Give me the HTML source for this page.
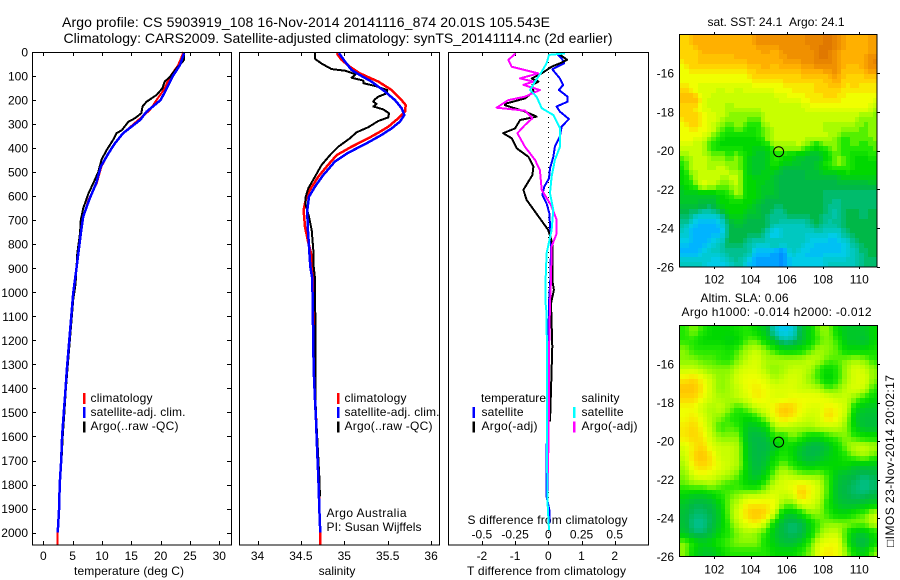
<!DOCTYPE html>
<html lang="en">
<head>
<meta charset="utf-8">
<title>Argo profile</title>
<style>
html,body{margin:0;padding:0;background:#fff;width:900px;height:580px;overflow:hidden}
svg{display:block}
text{font-family:"Liberation Sans",sans-serif;font-size:12px;fill:#000}
.t14{font-size:14px}
.m{text-anchor:middle}
.e{text-anchor:end}
</style>
</head>
<body>
<svg id="chart" width="900" height="580" viewBox="0 0 900 580" xmlns="http://www.w3.org/2000/svg">
  <rect x="0" y="0" width="900" height="580" fill="#fff"/>
  <text class="t14" x="62" y="27" textLength="488">Argo profile: CS 5903919_108 16-Nov-2014 20141116_874 20.01S 105.543E</text>
  <text class="t14" x="63.5" y="43" textLength="549">Climatology: CARS2009. Satellite-adjusted climatology: synTS_20141114.nc (2d earlier)</text>

  <g id="ticks"></g>

  <text class="m" x="129" y="575" textLength="110">temperature (deg C)</text>
  <text class="m" x="337" y="575">salinity</text>
  <text x="467" y="575" textLength="159">T difference from climatology</text>
  <text x="467.5" y="524" textLength="160">S difference from climatology</text>

  <g>
    <rect x="83" y="393" width="2.5" height="11" fill="#f00"/>
    <rect x="83" y="407" width="2.5" height="11" fill="#00f"/>
    <rect x="83" y="421.5" width="2.5" height="11" fill="#000"/>
    <text x="90.5" y="402" textLength="62">climatology</text>
    <text x="90.5" y="416" textLength="95">satellite-adj. clim.</text>
    <text x="90.5" y="430" textLength="88">Argo(..raw -QC)</text>
  </g>
  <g>
    <rect x="337" y="393" width="2.5" height="11" fill="#f00"/>
    <rect x="337" y="407" width="2.5" height="11" fill="#00f"/>
    <rect x="337" y="421.5" width="2.5" height="11" fill="#000"/>
    <text x="344.5" y="402" textLength="62">climatology</text>
    <text x="344.5" y="416" textLength="95">satellite-adj. clim.</text>
    <text x="344.5" y="430" textLength="88">Argo(..raw -QC)</text>
    <text x="326.5" y="517" textLength="80">Argo Australia</text>
    <text x="326.5" y="531" textLength="95">PI: Susan Wijffels</text>
  </g>
  <g>
    <text x="481" y="402" textLength="65">temperature</text>
    <text x="581.5" y="402" textLength="38">salinity</text>
    <rect x="472.5" y="407" width="2.5" height="11" fill="#00f"/>
    <rect x="472.5" y="421.5" width="2.5" height="11" fill="#000"/>
    <rect x="573" y="407" width="2.5" height="11" fill="#0ff"/>
    <rect x="573" y="421.5" width="2.5" height="11" fill="#f0f"/>
    <text x="481.5" y="416" textLength="42">satellite</text>
    <text x="481.5" y="430" textLength="56">Argo(-adj)</text>
    <text x="581.5" y="416" textLength="42">satellite</text>
    <text x="581.5" y="430" textLength="56">Argo(-adj)</text>
  </g>

  <line x1="548.5" y1="52" x2="548.5" y2="545" stroke="#000" stroke-width="1" stroke-dasharray="1 4"/>

  <g id="series"></g>

  <rect x="32.5" y="52.5" width="199" height="492.5" fill="none" stroke="#000" stroke-width="1" shape-rendering="crispEdges"/>
  <rect x="239.5" y="52.5" width="200" height="492.5" fill="none" stroke="#000" stroke-width="1" shape-rendering="crispEdges"/>
  <rect x="448.5" y="52.5" width="200" height="492.5" fill="none" stroke="#000" stroke-width="1" shape-rendering="crispEdges"/>

  <text x="707.5" y="26" textLength="137">sat. SST: 24.1&#160;&#160;Argo: 24.1</text>
  <text x="700.5" y="302" textLength="88">Altim. SLA: 0.06</text>
  <text x="681.5" y="316" textLength="190">Argo h1000: -0.014 h2000: -0.012</text>
  <g id="sstMap"></g>
  <g id="slaMap"></g>
  <rect x="679.5" y="34.5" width="197.5" height="232.5" fill="none" stroke="#000" stroke-width="1" shape-rendering="crispEdges"/>
  <rect x="679.5" y="325.5" width="198" height="231" fill="none" stroke="#000" stroke-width="1" shape-rendering="crispEdges"/>
  <text transform="translate(894 547) rotate(-90)" textLength="172">&#9633;IMOS 23-Nov-2014 20:02:17</text>
</svg>

<script>
// ---- profile axes labels
const depthTicks = [0,100,200,300,400,500,600,700,800,900,1000,1100,1200,1300,1400,1500,1600,1700,1800,1900,2000];
const tempTicks = [0,5,10,15,20,25,30];
const salTicks = [34,34.5,35,35.5,36];
const tDiffTicks = [-2,-1,0,1,2];
const sDiffTicks = [-0.5,-0.25,0,0.25,0.5];
const lonTicks = [102,104,106,108,110];
const latTicks = [-16,-18,-20,-22,-24,-26];
const argoPosition = [105.55,-20.05];

// ---- temperature panel (deg C)
const tempClimDepth = [0,54,103,158,200,241,283,338,380,422,477,547,616,685,755,893,1004,1323,1400,1500,1600,1700,1800,1900,2000,2052];
const tempClim = [23.9,23,21.6,20.5,19.3,18.2,16.2,13.6,12.2,11.1,9.9,9.1,7.7,6.8,6.4,5.7,5.1,4.0,3.8,3.5,3.2,3.05,2.8,2.7,2.45,2.45];
const tempSatDepth = [5,54,103,158,200,220,248,283,338,380,422,477,547,616,685,755,893,1004,1323,1400,1500,1600,1700,1800,1900,2000];
const tempSat = [24,23.3,22,20.9,20,19,17.6,16.5,13.6,12.2,11.1,9.8,9,7.8,6.8,6.4,5.7,5.1,4.0,3.8,3.5,3.2,3.05,2.8,2.7,2.45];
const tempArgoDepth = [5,33,68,103,123,151,179,207,227,255,276,290,325,338,366,408,449,498,547,588,651,699,755,838,963,1032,1323,1400,1500,1600,1700,1800,1900];
const tempArgo = [24,24,22.7,21.6,20.7,20.3,19.3,17.6,16.9,16.7,15.6,14.5,13.4,12.5,11.9,10.8,9.9,9.4,8.5,7.7,6.8,6.4,6.25,5.8,5.5,5.1,4.1,3.85,3.6,3.3,3.1,2.75,2.75];

// ---- salinity panel
const salClimDepth = [5,33,61,89,123,158,200,221,248,276,311,336,359,394,429,477,519,574,616,657,727,782,838,879,942,1323,1448,1531,1642,1767,1933,2000,2052];
const salClim = [34.912,34.969,35.065,35.18,35.392,35.545,35.66,35.707,35.70,35.622,35.507,35.392,35.276,35.084,34.912,34.796,34.70,34.604,34.555,34.531,34.547,34.578,34.616,34.631,34.643,34.655,34.665,34.675,34.687,34.702,34.716,34.724,34.724];
const salSatDepth = [5,40,75,96,123,165,200,234,262,290,318,345,380,419,456,512,560,602,657,727,810,893,942,1323,1448,1531,1642,1767,1933,1999];
const salSat = [34.939,35.008,35.084,35.18,35.315,35.469,35.584,35.66,35.691,35.641,35.545,35.43,35.257,35.046,34.892,34.758,34.662,34.593,34.574,34.578,34.593,34.608,34.631,34.647,34.662,34.674,34.685,34.70,34.716,34.724];
const salArgoDepth = [5,30,50,71,78,93,107,119,130,141,158,172,186,197,207,216,227,239,255,272,287,313,334,359,394,429,470,519,567,602,637,685,741,824,879,942,1323,1448,1531,1642,1767,1850];
const salArgo = [34.66,34.666,34.747,34.854,35.008,35.131,35.084,35.219,35.219,35.353,35.495,35.488,35.392,35.353,35.334,35.372,35.334,35.449,35.515,35.507,35.392,35.276,35.142,35.065,34.931,34.835,34.739,34.662,34.585,34.555,34.555,34.593,34.624,34.643,34.643,34.662,34.67,34.668,34.677,34.693,34.712,34.72];

// ---- difference panel: temperature differences (deg C)
const diffTSatDepth = [6,26,47,72,110,137,158,186,207,227,248,279,311,352,394,436,484,526,560,595,630,671,741,810,949,1046,1226,1538,1656,1850,1905,1960];
const diffTSat = [0.25,0.40,0.48,0.12,0.35,0.45,0.32,0.58,0.58,0.25,0.35,0.62,0.40,0.35,0.20,0.15,0.05,0.02,-0.12,-0.18,-0.05,0.03,0.06,0.08,0.06,0.02,0,-0.03,-0.05,-0.05,0.03,0.03];
const diffTArgoDepth = [6,33,47,61,89,110,123,137,165,193,214,221,248,269,283,318,338,359,401,436,477,512,574,616,664,741,796,949,990,1046,1226,1406,1538];
const diffTArgo = [0.30,0.57,0.35,0.10,-0.20,-0.50,-0.30,-0.48,-0.45,-0.70,-1.26,-1.31,-0.70,-0.35,-0.85,-1.0,-1.36,-1.10,-0.95,-0.60,-0.45,-0.48,-0.75,-0.65,-0.40,0,0.12,0.12,0.17,0.08,0.12,0.08,0.05];
// ---- difference panel: salinity differences
const diffSArgoDepth = [6,33,61,89,110,123,137,158,186,200,232,244,276,304,338,394,449,491,574,637,699,755,810,949,1046,1254,1462,1656,1878];
const diffSArgo = [-0.246,-0.301,-0.276,-0.075,-0.213,-0.113,-0.188,-0.063,-0.176,-0.301,-0.389,-0.176,-0.12,-0.176,-0.233,-0.176,-0.10,-0.063,-0.05,0.02,0.063,0.063,0.025,0.02,0.013,0.005,0.005,0,-0.005];
const diffSSatDepth = [6,12,47,82,123,158,186,234,262,318,394,449,519,588,657,741,838,949,1046,1087,1323,1656,1878,1989];
const diffSSat = [0.126,0.005,-0.013,-0.05,-0.10,-0.138,-0.088,-0.05,0.038,0.088,0.088,0.05,0.025,0.013,0.038,0.025,-0.013,-0.02,-0.02,-0.013,-0.01,-0.01,-0.005,0.005];

// ---- heatmap colour-index values, north to south, west to east
const sstLevels = [
[3,2,2,2,2,2,2,2,1,1,1,1,1,1,0.5,0.5,0,0.5,2,2,2,1.5],
[3,3,2,2,2,2,2,2,2,1.5,2,1,1,1,1,0,0,1,2,2,2,1.5],
[3,3,2.5,2.5,2.5,2.5,2,2,2,2,2,1.5,1,1,1,0,0,1,2,2,2,0.5],
[4,3,3,3,3,3,3,3,2.5,2,2.5,2,2,2,1.5,1.5,1,1,2.5,2.5,2,1],
[4,4,4,4,4,4,4,4,3,3,3,3,3,3,3,3,2.5,1.5,3,3,3,3],
[3,4,5,4.5,5,4.5,5,4.5,4.5,4,4,4,3.5,3.5,3.5,3,3,2.5,3.5,3,3.5,3.5],
[2,2,4,5,5,5,5,5,5,5,5,4.5,4,4,3.5,3.5,3,3.5,4,4,4,4],
[3,3,4.5,5,5,5.5,5,5,5,5,5,5,5,5,4.5,4,4,4,4,4,4,5],
[3,3,3.5,4.5,5,6,6,6,6.5,5,5,5,5,5,5,5,5,5,5,5,6,6],
[4,3,4,4.5,6,7,6,7,7.5,6,5,5,5,5,5,5,5.5,5.5,5.5,6,6.5,6],
[4,4,4,6,7,8,8,8,7.5,6,5,5,5,5,5,5,5,6,7,6.5,6.5,6],
[4.5,5,5,7,8,8,8,8,8.5,8,6,5.5,5.5,5,7,7.5,6,6,7,6.5,7,6.5],
[6,5,5,6,6,7,6,8,9,9,7,7.5,8,9,9.5,9.5,8,6,7,8,8,7],
[7,5,5,5.5,5,6,6,8,9,9,7,9,9,9.5,9.5,9,7,6,6.5,8,8,8],
[8,5.5,5,5,5,5,5,8,9,8,9,10,10,10,9.5,9.5,9,9,8,8,8,8],
[8,7,4.5,5,6,6,5,8,8,9,9,10,10,10,10,10,10,10,10,10,10,9.5],
[9,9,9,9,8,7,5.5,8,8,9,9,10,10,10,10,10,10.5,10.5,10.5,10.5,10.5,10.5],
[9,9,9.5,10,8,8,8,8,9,10,10,10,10,10,10,10,10.5,11,10.5,10.5,10.5,10.5],
[10,11,12,12,11,8,8,9,9,10,11,11,10,10,10,10,11,11.5,10,10,10.5,10],
[11,13,14,14,13,10,9,10,10,10,11,12,12,12,11,10,11.5,11,10,10,10,10],
[12,14,14,14,14,10,10,10,10,11,14,12,12,12,12.5,12,12.5,12.5,11,10,10,10],
[13,14,14,13,12,10,10,11,12,12,11,12,12,12,13,13.5,13.5,13.5,12.5,11,10,10],
[14,14,13,12,12,11,11,11,14,14,14.5,15.5,12,13,13.5,13.5,13.5,13.5,13,12,10.5,10],
[12,12,12,13,13,12,11,13,14.5,14.5,14.5,15,13,13,13,13,12,12,12,12,10.5,10.5]
];
const slaLevels = [
[7,6,7,8,8,8,7.5,7,8,9,12,13.5,12.5,9.5,8,6,6,8,9,9,9,8],
[7,7,8,8,8,8.5,8,6.5,6.5,8,9.5,11.5,11,9.5,8,6.5,6,7,9,9,9.5,8],
[6,7,7,7,7,7.5,6.5,5.5,5,6,7,8,8,7.5,6.5,5.5,6,6.5,8,8,8,7.5],
[6,6,6.5,6.5,7,7,6,5,4.5,5.5,5.5,5.5,5.5,5.5,5,5.5,6.5,6.5,6,5.5,6,7],
[5,5,5.5,6,6,6,5,4.5,4.5,5.5,6,5.5,5,5,5.5,7,8,7,5.5,4.5,5,6],
[3.5,3,4,5,6,5.5,4.5,4,4,4.5,5.5,5,4.5,5,6,7,8.5,7,5.5,4.5,4.5,6],
[2.5,2.5,3.5,5,6,5.5,5,4,3.5,4,4.5,4.5,4.5,5,5,5.5,6.5,6,5,4.5,5,7],
[3,3,4,5,5.5,5.5,5,4.5,3.5,4,4.5,4.5,4,4,4,4,4.5,5,5,6,7,8],
[4,4,5,5.5,5,6,7,6,5,4.5,3.5,2.5,3,4,4.5,4.5,3.5,4,5,8,9,9],
[4,3.5,4.5,5.5,6,7,7.5,8,7,5.5,4,3,3.5,4.5,5,4.5,3,4,5.5,9,9.5,9.5],
[3.5,3,4,5.5,7,6.5,7,9,9,8,5.5,5,5.5,5.5,5.5,5,5,5,6,8.5,9.5,9.5],
[3.5,3,3.5,5,6,6,6,9.5,10,9.5,7,7.5,6,7,8,8,7,6.5,6,7,7.5,7.5],
[4.5,3.5,3,4.5,5,5,5.5,9,10,10,9,7.5,8,9,10,10,9,7.5,6,5,5,5.5],
[5,3,2.5,3.5,5,5,5.5,9,10,9.5,8,7,8,9.5,10,9.5,8.5,8,7,6,5.5,6.5],
[5.5,3.5,3,3.5,4.5,5,5.5,8.5,10,9,7,6,7,8,8.5,8,8,8,8,9,9,9],
[6,4.5,4,4.5,5,5.5,6.5,8.5,9.5,8,6,5,5.5,6,6,6,7,9,9.5,10,10.5,10],
[6.5,6,6,5.5,6.5,7,7,8,8,6.5,5,4.5,4,3.5,4,5,7,9.5,10,10.5,11,10.5],
[8,8.5,8.5,8,7,6.5,6,5.5,5.5,5,4.5,5,4.5,2.5,4,5,7,9.5,10,10.5,10.5,10],
[9,10,10,9.5,8,6,5,3.5,3.5,3.5,4,6,6,4.5,4.5,5.5,7.5,9,9.5,9.5,9,8.5],
[9.5,10.5,10.5,10,8.5,6,4.5,3,2.5,3,5,8.5,9,7.5,6,6,7,8,8,7,6.5,5],
[9.5,11,11,10,8.5,6.5,5,4,3.5,5,8,10,10.5,10,8,6.5,6,6,6,6,6,5],
[9,10.5,10.5,9.5,8,7,6,5.5,6,7,9,10,10.5,10,8,6,5,5,7,9,9,7.5],
[6,7.5,8.5,8,7,6.5,6,6,6,7.5,8.5,9.5,9.5,8.5,6.5,4.5,4,4,7,9.5,10,8],
[6,8,9,9,8,7,7,7,7,7,8,8,8,7,6,4,3.5,4,6,8,8.5,6]
];

// ---- axis functions
const yDepth = d => 52 + 0.2403 * d;
const xTemp = t => 43.3 + 5.867 * t;
const xSal = s => 344.3 + 86.8 * (s - 35);
const xTDiff = t => 548.3 + 33.2 * t;
const xSDiff = s => 548.3 + 132.8 * s;
const xLon = (lon) => 714.3 + 18.12 * (lon - 102);
const ySst = (lat) => 34.5 + 19.37 * (-14 - lat);
const ySla = (lat) => 325.7 + 19.25 * (-14 - lat);

const NS = 'http://www.w3.org/2000/svg';
const seriesG = document.getElementById('series');
const ticksG = document.getElementById('ticks');

function svgEl(tag, parent) {
  const el = document.createElementNS(NS, tag);
  parent.appendChild(el);
  return el;
}
function profile(depths, values, xFn, color, width) {
  const el = svgEl('polyline', seriesG);
  el.setAttribute('points', depths.map((d, i) => xFn(values[i]).toFixed(1) + ',' + yDepth(d).toFixed(1)).join(' '));
  el.setAttribute('fill', 'none');
  el.setAttribute('stroke', color);
  el.setAttribute('stroke-width', width);
  el.setAttribute('stroke-linejoin', 'round');
  el.setAttribute('shape-rendering', 'crispEdges');
  return el;
}
function tick(x1, y1, x2, y2) {
  const el = svgEl('line', ticksG);
  el.setAttribute('x1', x1);
  el.setAttribute('y1', y1);
  el.setAttribute('x2', x2);
  el.setAttribute('y2', y2);
  el.setAttribute('stroke', '#000');
  el.setAttribute('stroke-width', 1);
  el.setAttribute('shape-rendering', 'crispEdges');
  
  
}
function label(x, y, str, cls) {
  const el = svgEl('text', ticksG);
  el.setAttribute('x', x);
  el.setAttribute('y', y);
  el.setAttribute('class', cls);
  el.textContent = str;
  
  
}

// ---- ticks and tick labels
depthTicks.forEach(d => {
  const y = Math.round(yDepth(d)) + 0.5;
  if (d > 0) tick(32, y, 36, y);
  if (d > 0) tick(227, y, 231, y);
  label(28, yDepth(d) + 4.5, String(d), 'e');
});
tempTicks.forEach(t => {
  const x = Math.round(xTemp(t)) + 0.5;
  tick(x, 52, x, 56);
  tick(x, 541, x, 545);
  label(xTemp(t), 560, String(t), 'm');
});
salTicks.forEach(s => {
  const x = Math.round(xSal(s)) + 0.5;
  tick(x, 52, x, 56);
  tick(x, 541, x, 545);
  label(xSal(s), 560, String(s), 'm');
});
tDiffTicks.forEach(t => {
  const x = Math.round(xTDiff(t)) + 0.5;
  tick(x, 52, x, 56);
  tick(x, 541, x, 545);
  label(xTDiff(t), 560, String(t), 'm');
});
sDiffTicks.forEach(s => {
  label(xSDiff(s), 538.5, String(s), 'm');
});
lonTicks.forEach(lon => {
  const x = Math.round(xLon(lon)) + 0.5;
  tick(x, 32, x, 34);
  tick(x, 267, x, 269);
  label(xLon(lon), 283.5, String(lon), 'm');
  tick(x, 323, x, 325);
  tick(x, 557, x, 559);
  label(xLon(lon), 573.5, String(lon), 'm');
});
latTicks.forEach(lat => {
  const y1 = Math.round(ySst(lat)) + 0.5;
  tick(877, y1, 880, y1);
  label(674, ySst(lat) + 4.5, String(lat), 'e');
  const y2 = Math.round(ySla(lat)) + 0.5;
  tick(877, y2, 880, y2);
  label(674, ySla(lat) + 4.5, String(lat), 'e');
});

// ---- series, drawn back to front
let el;
el = profile(tempClimDepth, tempClim, xTemp, '#f00', 2);


el = profile(tempArgoDepth, tempArgo, xTemp, '#000', 2);


el = profile(tempSatDepth, tempSat, xTemp, '#00f', 2.5);



el = profile(salClimDepth, salClim, xSal, '#f00', 2.5);


el = profile(salArgoDepth, salArgo, xSal, '#000', 2);


el = profile(salSatDepth, salSat, xSal, '#00f', 2.5);



el = profile(diffTSatDepth, diffTSat, xTDiff, '#00f', 2);


el = profile(diffTArgoDepth, diffTArgo, xTDiff, '#000', 2);


el = profile(diffSArgoDepth, diffSArgo, xSDiff, '#f0f', 2);


el = profile(diffSSatDepth, diffSSat, xSDiff, '#0ff', 2);



// ---- heatmaps
const paletteStops = ['#e07800','#f09000','#ffb000','#ffd400','#f0ff00','#c8ff00','#88f800','#20e800','#00d800','#00c828','#00b848','#00c090','#00c8c0','#00cce8','#00b4ff','#0090ff','#0050f0'];
function hexRgb(h) {
  return [parseInt(h.slice(1,3),16), parseInt(h.slice(3,5),16), parseInt(h.slice(5,7),16)];
}
function colorFor(v) {
  const c = Math.max(0, Math.min(paletteStops.length - 1.001, v));
  const i = Math.floor(c), f = c - i;
  const a = hexRgb(paletteStops[i]), b = hexRgb(paletteStops[i + 1]);
  return 'rgb(' + a.map((n, k) => Math.round(n + (b[k] - n) * f)).join(',') + ')';
}
function sample(grid, r, c) {
  const rows = grid.length, cols = grid[0].length;
  const rr = Math.max(0, Math.min(rows - 1, r)), cc = Math.max(0, Math.min(cols - 1, c));
  const r0 = Math.floor(rr), c0 = Math.floor(cc);
  const r1 = Math.min(rows - 1, r0 + 1), c1 = Math.min(cols - 1, c0 + 1);
  const fr = rr - r0, fc = cc - c0;
  return (grid[r0][c0] * (1 - fc) + grid[r0][c1] * fc) * (1 - fr) + (grid[r1][c0] * (1 - fc) + grid[r1][c1] * fc) * fr;
}
function heatmap(parent, grid, left, top, width, height, step) {
  const rows = grid.length * 2, cols = grid[0].length * 2;
  const w = width / cols, h = height / rows;
  for (let r = 0; r < rows; r++) {
    for (let c = 0; c < cols; c++) {
      let v = sample(grid, (r + 0.5) / 2 - 0.5, (c + 0.5) / 2 - 0.5);
      if (step) v = Math.round(v / step) * step;
      const cell = svgEl('rect', parent);
      const x0 = Math.round(left + c * w), x1 = Math.round(left + (c + 1) * w);
      const y0 = Math.round(top + r * h), y1 = Math.round(top + (r + 1) * h);
      cell.setAttribute('x', x0);
      cell.setAttribute('y', y0);
      cell.setAttribute('width', x1 - x0);
      cell.setAttribute('height', y1 - y0);
      cell.setAttribute('fill', colorFor(v));
      cell.setAttribute('shape-rendering', 'crispEdges');
      
      
    }
  }
}
const sstG = document.getElementById('sstMap');
const slaG = document.getElementById('slaMap');
heatmap(sstG, sstLevels, 680, 35, 197, 232, 0.5);
heatmap(slaG, slaLevels, 680, 326, 198, 231, 0);

el = svgEl('circle', sstG);
el.setAttribute('cx', xLon(argoPosition[0]));
el.setAttribute('cy', ySst(argoPosition[1]));
el.setAttribute('r', 5);
el.setAttribute('fill', 'none');
el.setAttribute('stroke', '#000');


el = svgEl('circle', slaG);
el.setAttribute('cx', xLon(argoPosition[0]));
el.setAttribute('cy', ySla(argoPosition[1]));
el.setAttribute('r', 5);
el.setAttribute('fill', 'none');
el.setAttribute('stroke', '#000');


</script>
</body>
</html>
